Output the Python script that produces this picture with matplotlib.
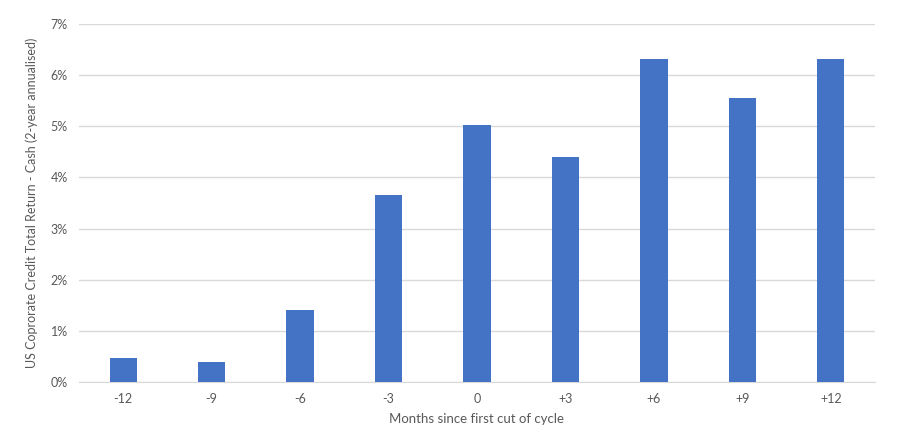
import numpy as np
import matplotlib.pyplot as plt
from matplotlib.ticker import FuncFormatter

# Daten
months = ['-12', '-9', '-6', '-3', '0', '+3', '+6', '+9', '+12']
excess_return = [0.47, 0.39, 1.40, 3.66, 5.03, 4.40, 6.31, 5.55, 6.31]

plt.rcParams['font.family'] = ['Lato', 'DejaVu Sans']
grey = '#595959'

fig = plt.figure(figsize=(9, 4.46), dpi=100)
ax = fig.add_axes([0.0878, 0.1435, 0.8844, 0.8027])

x = np.arange(len(months))
ax.bar(x, excess_return, width=0.31, color='#4472C4', zorder=3)

ax.set_xlim(-0.5, len(months) - 0.5)
ax.set_ylim(0, 7)
ax.set_yticks(np.arange(0, 8, 1))
ax.yaxis.set_major_formatter(FuncFormatter(lambda v, p: f'{v:.0f}%'))
ax.set_xticks(x)
ax.set_xticklabels(months)

ax.grid(axis='y', color='#d9d9d9', linewidth=1, zorder=0)
for s in ['top', 'right', 'left']:
    ax.spines[s].set_visible(False)
ax.spines['bottom'].set_color('#d9d9d9')
ax.tick_params(axis='both', length=0, colors=grey, labelsize=9)
ax.tick_params(axis='x', pad=8)
ax.tick_params(axis='y', pad=8)

ax.set_xlabel('Months since first cut of cycle', color=grey, fontsize=9.5, labelpad=6)
ax.set_ylabel('US Coprorate Credit Total Return - Cash (2-year annualised)', color=grey, fontsize=9, labelpad=9)

fig.savefig('out.png', dpi=100)
